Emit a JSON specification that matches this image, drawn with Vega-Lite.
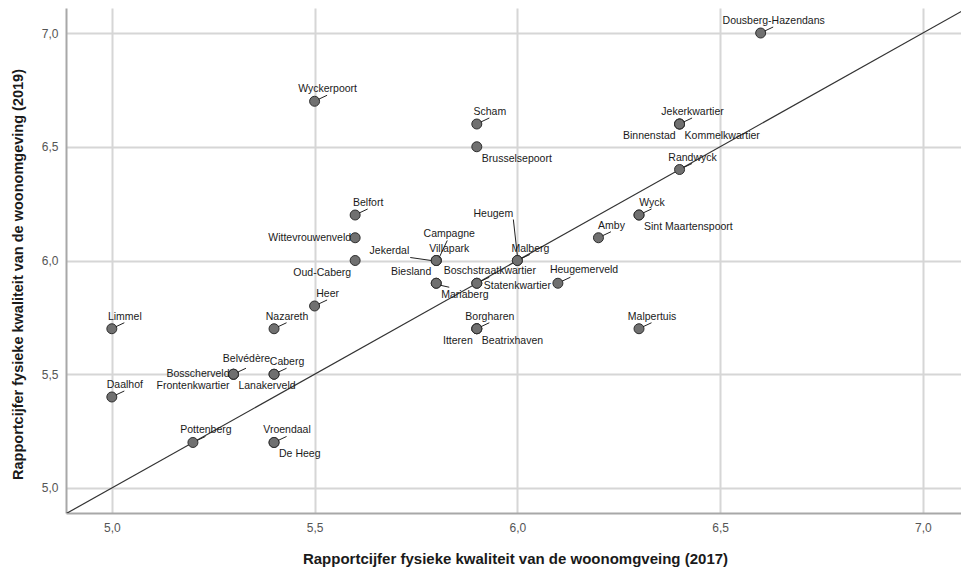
{
  "$schema": "https://vega.github.io/schema/vega-lite/v6.json",
  "width": 895,
  "height": 505,
  "autosize": {"type": "none"},
  "padding": {"left": 66, "top": 8, "right": 0, "bottom": 58},
  "background": "white",
  "config": {"view": {"stroke": null}, "font": "Liberation Sans"},
  "datasets": {
    "pts": [
      {"name": "Dousberg-Hazendans", "x": 6.6, "y": 7.0},
      {"name": "Wyckerpoort", "x": 5.5, "y": 6.7},
      {"name": "Scham", "x": 5.9, "y": 6.6},
      {"name": "Brusselsepoort", "x": 5.9, "y": 6.5},
      {"name": "Jekerkwartier", "x": 6.4, "y": 6.6},
      {"name": "Binnenstad", "x": 6.4, "y": 6.6},
      {"name": "Kommelkwartier", "x": 6.4, "y": 6.6},
      {"name": "Randwyck", "x": 6.4, "y": 6.4},
      {"name": "Wyck", "x": 6.3, "y": 6.2},
      {"name": "Sint Maartenspoort", "x": 6.3, "y": 6.2},
      {"name": "Amby", "x": 6.2, "y": 6.1},
      {"name": "Belfort", "x": 5.6, "y": 6.2},
      {"name": "Wittevrouwenveld", "x": 5.6, "y": 6.1},
      {"name": "Oud-Caberg", "x": 5.6, "y": 6.0},
      {"name": "Campagne", "x": 5.8, "y": 6.0},
      {"name": "Villapark", "x": 5.8, "y": 6.0},
      {"name": "Jekerdal", "x": 5.8, "y": 6.0},
      {"name": "Heugem", "x": 6.0, "y": 6.0},
      {"name": "Malberg", "x": 6.0, "y": 6.0},
      {"name": "Biesland", "x": 5.8, "y": 5.9},
      {"name": "Mariaberg", "x": 5.8, "y": 5.9},
      {"name": "Boschstraatkwartier", "x": 5.9, "y": 5.9},
      {"name": "Statenkwartier", "x": 5.9, "y": 5.9},
      {"name": "Heugemerveld", "x": 6.1, "y": 5.9},
      {"name": "Heer", "x": 5.5, "y": 5.8},
      {"name": "Limmel", "x": 5.0, "y": 5.7},
      {"name": "Nazareth", "x": 5.4, "y": 5.7},
      {"name": "Borgharen", "x": 5.9, "y": 5.7},
      {"name": "Itteren", "x": 5.9, "y": 5.7},
      {"name": "Beatrixhaven", "x": 5.9, "y": 5.7},
      {"name": "Malpertuis", "x": 6.3, "y": 5.7},
      {"name": "Belvédère", "x": 5.3, "y": 5.5},
      {"name": "Bosscherveld", "x": 5.3, "y": 5.5},
      {"name": "Frontenkwartier", "x": 5.3, "y": 5.5},
      {"name": "Caberg", "x": 5.4, "y": 5.5},
      {"name": "Lanakerveld", "x": 5.4, "y": 5.5},
      {"name": "Daalhof", "x": 5.0, "y": 5.4},
      {"name": "Pottenberg", "x": 5.2, "y": 5.2},
      {"name": "Vroendaal", "x": 5.4, "y": 5.2},
      {"name": "De Heeg", "x": 5.4, "y": 5.2}
    ],
    "diag": [{"x": 4.8, "y": 4.8}, {"x": 7.2, "y": 7.2}]
  },
  "data": {"name": "pts"},
  "encoding": {
    "x": {
      "field": "x", "type": "quantitative",
      "scale": {"domain": [4.887, 7.094], "nice": false, "zero": false},
      "axis": {
        "values": [5, 5.5, 6, 6.5, 7],
        "labelExpr": "replace(format(datum.value,'.1f'),'.',',')",
        "ticks": false, "grid": true, "gridColor": "#d6d6d6", "gridWidth": 2,
        "domainColor": "#a8a8a8", "domainWidth": 2,
        "labelColor": "#555555", "labelFontSize": 12, "labelPadding": 9, "labelFont": "Liberation Sans",
        "title": "Rapportcijfer fysieke kwaliteit van de woonomgveing (2017)",
        "titleFontSize": 15, "titleFontWeight": "bold", "titleColor": "#1a1a1a", "titleFont": "Liberation Sans",
        "titleBaseline": "middle", "titleY": 45, "titleX": 449, "titleAlign": "center"
      }
    },
    "y": {
      "field": "y", "type": "quantitative",
      "scale": {"domain": [4.89, 7.11], "nice": false, "zero": false},
      "axis": {
        "values": [5, 5.5, 6, 6.5, 7],
        "labelExpr": "replace(format(datum.value,'.1f'),'.',',')",
        "ticks": false, "grid": true, "gridColor": "#d6d6d6", "gridWidth": 2,
        "domainColor": "#a8a8a8", "domainWidth": 2,
        "labelColor": "#555555", "labelFontSize": 12, "labelPadding": 8, "labelFont": "Liberation Sans",
        "title": "Rapportcijfer fysieke kwaliteit van de woonomgeving (2019)",
        "titleFontSize": 14.5, "titleFontWeight": "bold", "titleColor": "#1a1a1a", "titleFont": "Liberation Sans",
        "titleBaseline": "middle", "titleAlign": "center", "titleAngle": -90, "titleX": -48, "titleY": 266
      }
    }
  },
  "layer": [
    {
      "data": {"name": "diag"},
      "mark": {"type": "line", "clip": true, "color": "#333333", "strokeWidth": 1.2}
    },
    {
      "mark": {"type": "point", "filled": true, "size": 100, "color": "#707070", "stroke": "#2e2e2e", "strokeWidth": 1, "opacity": 1}
    },
    {
      "transform": [{"filter": {"field": "name", "oneOf": ["Dousberg-Hazendans", "Wyckerpoort", "Scham", "Jekerkwartier", "Randwyck", "Wyck", "Amby", "Belfort", "Malberg", "Heer", "Limmel", "Nazareth", "Borgharen", "Malpertuis", "Pottenberg", "Vroendaal", "Daalhof", "Caberg", "Belvédère", "Boschstraatkwartier", "Heugemerveld"]}}],
      "mark": {"type": "point", "shape": "M0.8,-0.4L2.5,-1.2", "filled": false, "size": 100, "color": "#222222", "strokeWidth": 1, "opacity": 1}
    },
    {
      "transform": [{"filter": {"field": "name", "equal": "Heugem"}}],
      "mark": {"type": "point", "shape": "M0,-1L-0.8,-8.2", "filled": false, "size": 100, "color": "#222222", "strokeWidth": 1, "opacity": 1}
    },
    {
      "transform": [{"filter": {"field": "name", "equal": "Jekerdal"}}],
      "mark": {"type": "point", "shape": "M-1,0L-5.2,-0.6", "filled": false, "size": 100, "color": "#222222", "strokeWidth": 1, "opacity": 1}
    },
    {
      "transform": [{"filter": {"field": "name", "equal": "Campagne"}}],
      "mark": {"type": "point", "shape": "M0.6,-0.6L2.2,-4", "filled": false, "size": 100, "color": "#222222", "strokeWidth": 1, "opacity": 1}
    },
    {
      "transform": [{"filter": {"field": "name", "equal": "Mariaberg"}}],
      "mark": {"type": "point", "shape": "M0.8,0.4L2.6,0.8", "filled": false, "size": 100, "color": "#222222", "strokeWidth": 1, "opacity": 1}
    },
    {
      "transform": [{"filter": {"field": "name", "oneOf": ["Dousberg-Hazendans", "Wyckerpoort", "Scham", "Jekerkwartier", "Randwyck", "Wyck", "Amby", "Belfort", "Villapark", "Malberg", "Heer", "Limmel", "Nazareth", "Borgharen", "Malpertuis", "Pottenberg", "Vroendaal", "Daalhof", "Caberg", "Boschstraatkwartier"]}}],
      "mark": {"type": "text", "align": "center", "baseline": "middle", "dx": 13, "dy": -12, "fontSize": 10.5, "color": "#1a1a1a", "font": "Liberation Sans"},
      "encoding": {"text": {"field": "name"}}
    },
    {
      "transform": [{"filter": {"field": "name", "equal": "Belvédère"}}],
      "mark": {"type": "text", "align": "center", "baseline": "middle", "dx": 13, "dy": -15, "fontSize": 10.5, "color": "#1a1a1a", "font": "Liberation Sans"},
      "encoding": {"text": {"field": "name"}}
    },
    {
      "transform": [{"filter": {"field": "name", "oneOf": ["Brusselsepoort", "Kommelkwartier", "Sint Maartenspoort", "Beatrixhaven", "De Heeg", "Mariaberg"]}}],
      "mark": {"type": "text", "align": "left", "baseline": "middle", "dx": 5, "dy": 12, "fontSize": 10.5, "color": "#1a1a1a", "font": "Liberation Sans"},
      "encoding": {"text": {"field": "name"}}
    },
    {
      "transform": [{"filter": {"field": "name", "oneOf": ["Binnenstad", "Oud-Caberg", "Itteren", "Frontenkwartier"]}}],
      "mark": {"type": "text", "align": "right", "baseline": "middle", "dx": -4, "dy": 12, "fontSize": 10.5, "color": "#1a1a1a", "font": "Liberation Sans"},
      "encoding": {"text": {"field": "name"}}
    },
    {
      "transform": [{"filter": {"field": "name", "oneOf": ["Wittevrouwenveld", "Bosscherveld"]}}],
      "mark": {"type": "text", "align": "right", "baseline": "middle", "dx": -4, "dy": 0, "fontSize": 10.5, "color": "#1a1a1a", "font": "Liberation Sans"},
      "encoding": {"text": {"field": "name"}}
    },
    {
      "transform": [{"filter": {"field": "name", "equal": "Campagne"}}],
      "mark": {"type": "text", "align": "center", "baseline": "middle", "dx": 13, "dy": -27, "fontSize": 10.5, "color": "#1a1a1a", "font": "Liberation Sans"},
      "encoding": {"text": {"field": "name"}}
    },
    {
      "transform": [{"filter": {"field": "name", "equal": "Heugem"}}],
      "mark": {"type": "text", "align": "center", "baseline": "middle", "dx": -24, "dy": -47, "fontSize": 10.5, "color": "#1a1a1a", "font": "Liberation Sans"},
      "encoding": {"text": {"field": "name"}}
    },
    {
      "transform": [{"filter": {"field": "name", "equal": "Jekerdal"}}],
      "mark": {"type": "text", "align": "right", "baseline": "middle", "dx": -27, "dy": -10, "fontSize": 10.5, "color": "#1a1a1a", "font": "Liberation Sans"},
      "encoding": {"text": {"field": "name"}}
    },
    {
      "transform": [{"filter": {"field": "name", "equal": "Biesland"}}],
      "mark": {"type": "text", "align": "right", "baseline": "middle", "dx": -5, "dy": -11, "fontSize": 10.5, "color": "#1a1a1a", "font": "Liberation Sans"},
      "encoding": {"text": {"field": "name"}}
    },
    {
      "transform": [{"filter": {"field": "name", "equal": "Statenkwartier"}}],
      "mark": {"type": "text", "align": "left", "baseline": "middle", "dx": 7, "dy": 3, "fontSize": 10.5, "color": "#1a1a1a", "font": "Liberation Sans"},
      "encoding": {"text": {"field": "name"}}
    },
    {
      "transform": [{"filter": {"field": "name", "equal": "Heugemerveld"}}],
      "mark": {"type": "text", "align": "left", "baseline": "middle", "dx": -8, "dy": -13, "fontSize": 10.5, "color": "#1a1a1a", "font": "Liberation Sans"},
      "encoding": {"text": {"field": "name"}}
    },
    {
      "transform": [{"filter": {"field": "name", "equal": "Lanakerveld"}}],
      "mark": {"type": "text", "align": "center", "baseline": "middle", "dx": -7, "dy": 12, "fontSize": 10.5, "color": "#1a1a1a", "font": "Liberation Sans"},
      "encoding": {"text": {"field": "name"}}
    }
  ]
}
